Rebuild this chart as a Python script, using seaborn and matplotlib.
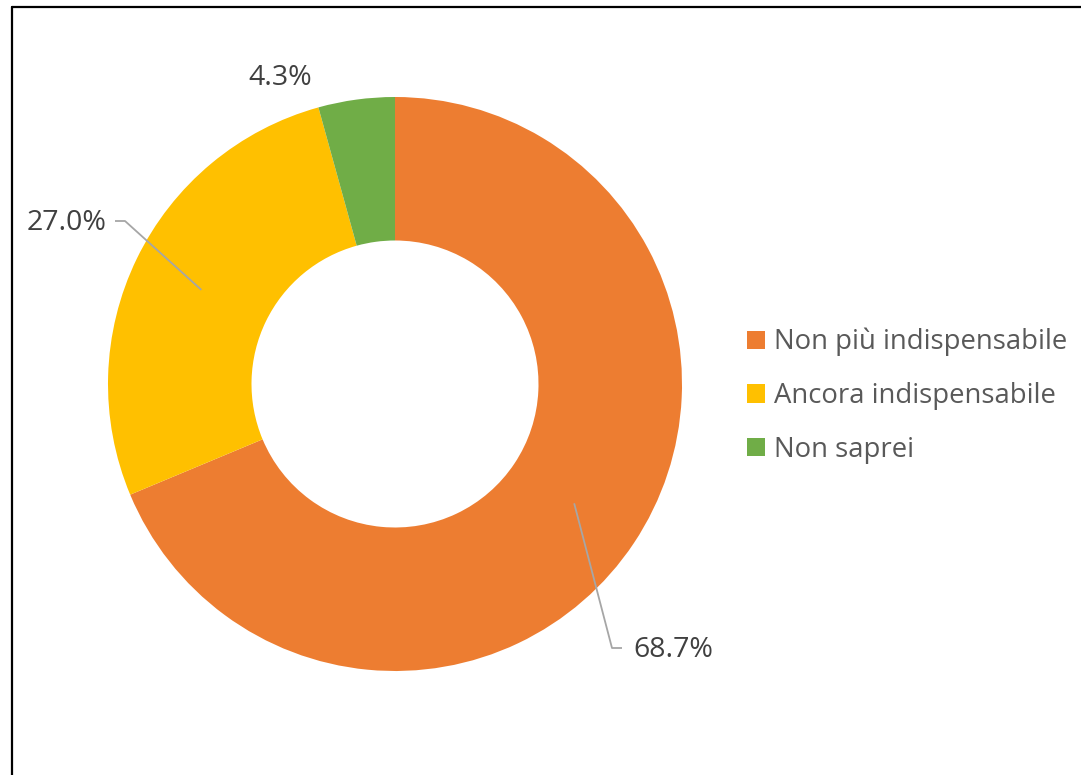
import numpy as np
import matplotlib
matplotlib.use("Agg")
import matplotlib.pyplot as plt
import seaborn as sns
from matplotlib.lines import Line2D

categories = ["Non più indispensabile", "Ancora indispensabile", "Non saprei"]
values = [68.7, 27.0, 4.3]
value_labels = ["68.7%", "27.0%", "4.3%"]
colors = ["#ED7D31", "#FFC000", "#70AD47"]

sns.set_theme(style="white")
plt.rcParams['font.family'] = ['Open Sans', 'DejaVu Sans']

W, H = 1081, 775
fig = plt.figure(figsize=(W / 100, H / 100), dpi=100)
ax = fig.add_axes([0, 0, 1, 1])

cx, cy, R = 395, H - 384, 287
wedges, _ = ax.pie(values, colors=colors, startangle=90, counterclock=False,
                   radius=R, center=(cx, cy),
                   wedgeprops=dict(width=R * 0.5, linewidth=0))
ax.set_xlim(0, W)
ax.set_ylim(0, H)
ax.set_aspect('equal')
ax.axis('off')

# label anchors (figure-pixel layout for text placement)
label_layout = [
    dict(text=(633, 650), ha='left', elbow=[(612, 648), (622, 648)]),
    dict(text=(107, 223), ha='right', elbow=[(125, 221), (115, 221)]),
    dict(text=(280, 78), ha='center', elbow=None),
]
rmid = R * 0.75
for w, lab, lay in zip(wedges, value_labels, label_layout):
    ang = np.deg2rad((w.theta1 + w.theta2) / 2)
    px, py = cx + rmid * np.cos(ang), cy + rmid * np.sin(ang)
    tx, ty = lay['text']
    ax.text(tx, H - ty, lab, ha=lay['ha'], va='center', fontsize=20.5, color='#404040')
    if lay['elbow'] is not None:
        xs = [px] + [e[0] for e in lay['elbow']]
        ys = [py] + [H - e[1] for e in lay['elbow']]
        ax.plot(xs, ys, color='#A6A6A6', lw=1.3, solid_capstyle='butt')

leg = ax.legend(wedges, categories, loc='upper left', bbox_to_anchor=(747 / W, 1 - 328 / H),
                bbox_transform=fig.transFigure, frameon=False, fontsize=19.8,
                handlelength=0.65, handleheight=0.65, handletextpad=0.35,
                labelspacing=0.93, borderpad=0, borderaxespad=0)
for t in leg.get_texts():
    t.set_color('#595959')

# outer frame (left and top edges)
fig.add_artist(Line2D([11.5 / W, 11.5 / W], [0, 1 - 6.5 / H], transform=fig.transFigure, color='black', lw=1.6))
fig.add_artist(Line2D([11.5 / W, 1], [1 - 6.5 / H, 1 - 6.5 / H], transform=fig.transFigure, color='black', lw=1.6))

fig.savefig("out.png", dpi=100)
